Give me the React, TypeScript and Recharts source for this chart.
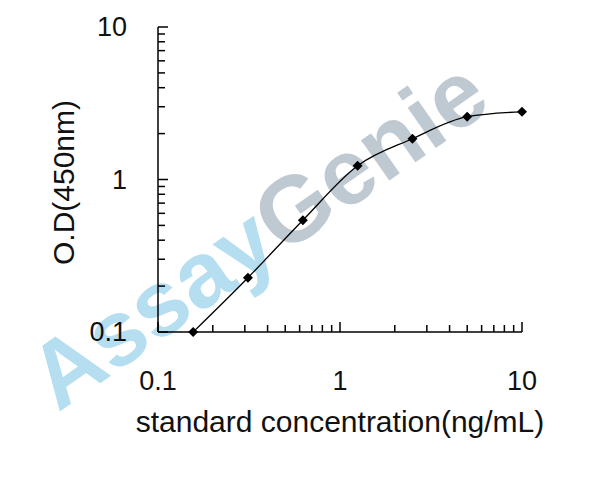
import React from "react";
import { LineChart, Line, XAxis, YAxis } from "recharts";

// standard curve: concentration (ng/mL) vs O.D(450nm)
const concentrations = [0.156, 0.312, 0.625, 1.25, 2.5, 5, 10];
const odValues = [0.1, 0.227, 0.541, 1.23, 1.85, 2.58, 2.78];

const logTicks = [0.1, 0.2, 0.3, 0.4, 0.5, 0.6, 0.7, 0.8, 0.9, 1, 2, 3, 4, 5, 6, 7, 8, 9, 10];
const majorTicks = [0.1, 1, 10];
const xTitle = "standard concentration(ng/mL)";
const yTitle = "O.D(450nm)";

const data = concentrations.map((c, i) => ({ conc: c, od: odValues[i] }));

const FONT = "'Liberation Sans', Arial, sans-serif";

function isMajor(v: number) {
  return majorTicks.some((m) => Math.abs(m - v) < 1e-9);
}

function XTick(props: any) {
  const { x, y, payload } = props;
  const major = isMajor(payload.value);
  return (
    <g>
      <line x1={x} y1={y} x2={x} y2={y - (major ? 10 : 7)} stroke="#000" strokeWidth={1.5} />
      {major && (
        <text x={x} y={y + 58} textAnchor="middle" fontSize={27} fontFamily={FONT} fill="#111">
          {payload.value}
        </text>
      )}
    </g>
  );
}

function YTick(props: any) {
  const { x, y, payload } = props;
  const major = isMajor(payload.value);
  return (
    <g>
      <line x1={x} y1={y} x2={x + (major ? 10 : 7)} y2={y} stroke="#000" strokeWidth={1.5} />
      {major && (
        <text x={x - 31} y={y + 9} textAnchor="end" fontSize={27} fontFamily={FONT} fill="#111">
          {payload.value}
        </text>
      )}
    </g>
  );
}

function Diamond(props: any) {
  const { cx, cy, index } = props;
  const r = 5;
  return (
    <path
      key={`d-${index}`}
      d={`M${cx},${cy - r}L${cx + r},${cy}L${cx},${cy + r}L${cx - r},${cy}Z`}
      fill="#000"
    />
  );
}

export default function App() {
  return (
    <div style={{ position: "absolute", left: 0, top: 0, width: 608, height: 481, background: "#fff" }}>
      <svg width={608} height={481} style={{ position: "absolute", left: 0, top: 0 }}>
        <text
          x={276}
          y={260}
          transform="rotate(-35, 276, 260)"
          textAnchor="middle"
          fontSize={93}
          fontWeight="bold"
          fontFamily={FONT}
        >
          <tspan fill="#b5def1">Assay</tspan>
          <tspan fill="#bfc9d2">Genie</tspan>
        </text>
      </svg>
      <div style={{ position: "absolute", left: 0, top: 0 }}>
        <LineChart width={608} height={481} data={data} margin={{ top: 27, right: 86, bottom: 49, left: 0 }}>
          <XAxis
            dataKey="conc"
            type="number"
            scale="log"
            domain={[0.1, 10]}
            ticks={logTicks}
            interval={0}
            height={100}
            tickSize={0}
            tickMargin={0}
            tickLine={false}
            axisLine={{ stroke: "#000", strokeWidth: 1.5 }}
            tick={<XTick />}
            label={(p: any) => {
              const vb = p.viewBox;
              return (
                <text x={vb.x + vb.width / 2} y={vb.y + 100} textAnchor="middle" fontSize={30} fontFamily={FONT} fill="#111">
                  {xTitle}
                </text>
              );
            }}
          />
          <YAxis
            type="number"
            scale="log"
            domain={[0.1, 10]}
            ticks={logTicks}
            interval={0}
            width={158}
            tickSize={0}
            tickMargin={0}
            tickLine={false}
            axisLine={{ stroke: "#000", strokeWidth: 1.5 }}
            tick={<YTick />}
            label={(p: any) => {
              const vb = p.viewBox;
              const cy = vb.y + vb.height / 2 + 3;
              return (
                <text x={74} y={cy} transform={`rotate(-90, 74, ${cy})`} textAnchor="middle" fontSize={30} fontFamily={FONT} fill="#111">
                  {yTitle}
                </text>
              );
            }}
          />
          <Line
            dataKey="od"
            type="monotone"
            stroke="#000"
            strokeWidth={1.3}
            dot={(p: any) => <Diamond key={`dot-${p.index}`} {...p} />}
            activeDot={false}
            isAnimationActive={false}
          />
        </LineChart>
      </div>
    </div>
  );
}
